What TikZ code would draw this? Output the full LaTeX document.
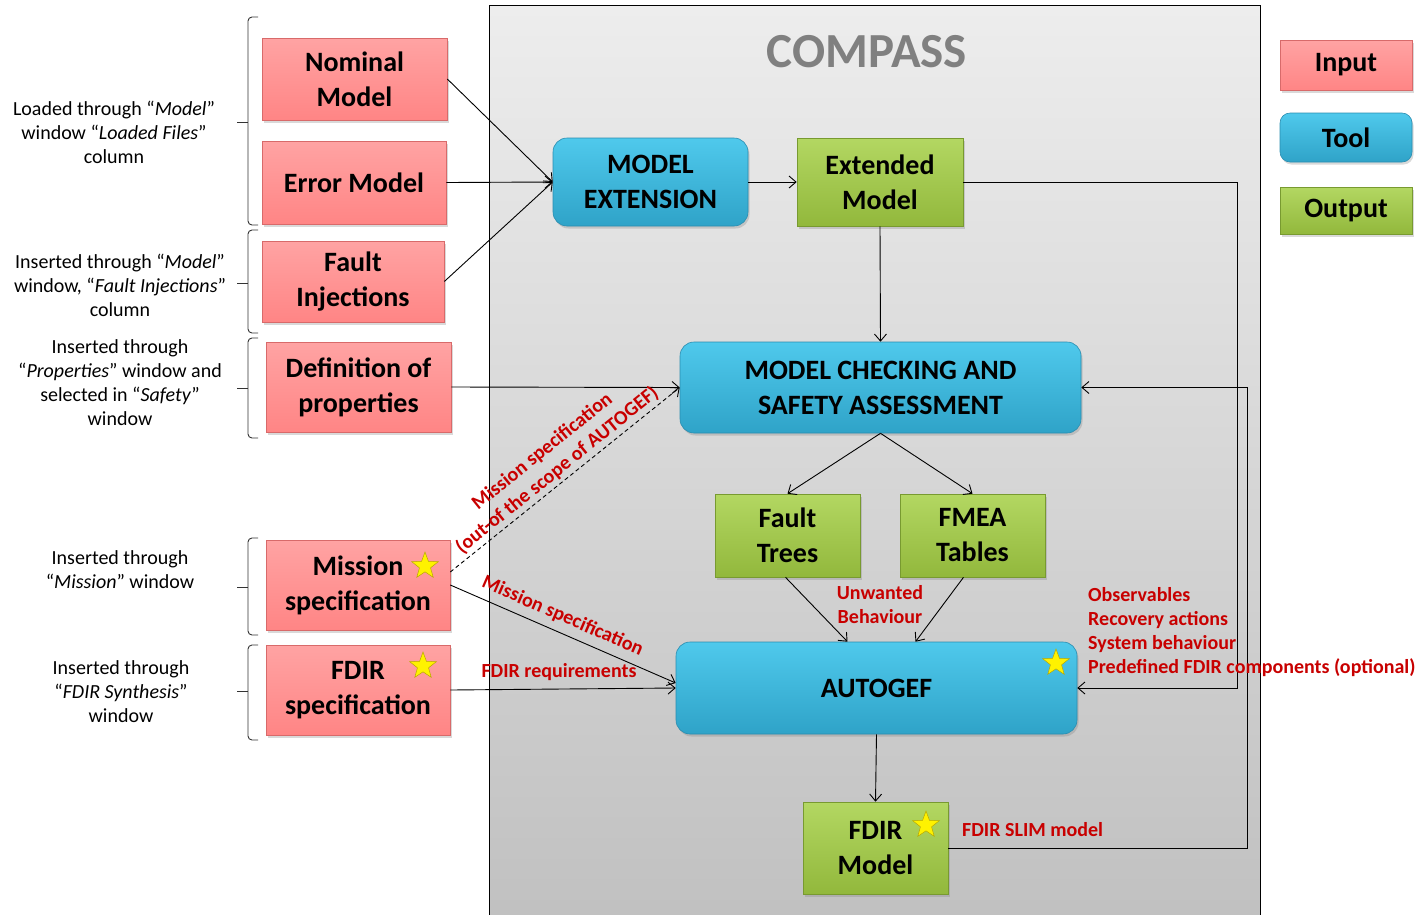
\documentclass[tikz,border=0pt]{standalone}
\usepackage{fontspec}
\setmainfont{Carlito}
\usetikzlibrary{arrows.meta,shapes.geometric,shadows,calc}
\definecolor{pinkT}{HTML}{FFA3A3}
\definecolor{pinkB}{HTML}{FF8585}
\definecolor{pinkD}{HTML}{D86A6A}
\definecolor{blueT}{HTML}{4FC9EC}
\definecolor{blueB}{HTML}{2FA3C8}
\definecolor{blueD}{HTML}{2A8DB0}
\definecolor{greenT}{HTML}{B3D762}
\definecolor{greenB}{HTML}{92B83C}
\definecolor{greenD}{HTML}{789A30}
\definecolor{redL}{HTML}{C80000}
\definecolor{starD}{HTML}{B8A800}
\definecolor{compT}{HTML}{EDEDED}
\definecolor{compB}{HTML}{C0C0C0}
\newcommand\sidebrace[3]{%
  \draw[brc, rounded corners=4pt] (258,#1) -- (248,#1) -- (248,#3) -- (258,#3);
  \draw[brc] (237,#2) -- (248,#2);}
\begin{document}
\begin{tikzpicture}[x=1pt,y=-1pt,
 box/.style={draw, line width=0.6pt, inner sep=0pt, align=center,
   font=\bfseries\fontsize{28}{35}\selectfont,
   drop shadow={opacity=0.3,shadow xshift=1.5pt,shadow yshift=-2.5pt}},
 inbox/.style={box, draw=pinkD, top color=pinkT, bottom color=pinkB},
 toolbox/.style={box, draw=blueD, top color=blueT, bottom color=blueB, rounded corners=14pt},
 outbox/.style={box, draw=greenD, top color=greenT, bottom color=greenB},
 arr/.style={line width=0.9pt, -{Straight Barb[length=7pt,width=12pt]}},
 lbl/.style={text=redL, font=\bfseries\fontsize{20}{24}\selectfont, inner sep=0pt},
 side/.style={align=center, font=\fontsize{20}{24}\selectfont, inner sep=0pt},
 starmark/.style={star, star points=5, star point ratio=2.4, minimum size=28pt,
   inner sep=0pt, draw=starD, line width=0.5pt, fill=yellow},
 brc/.style={line width=0.9pt, draw=black!80}
]
\useasboundingbox (0,0) rectangle (1417,914);
\clip (0,0) rectangle (1417,914);
% COMPASS frame
\fill[top color=compT, bottom color=compB] (489,5) rectangle (1260,930);
\draw[line width=0.9pt] (489,930) -- (489,5) -- (1260,5) -- (1260,930);
\node[font=\bfseries\fontsize{49}{52}\selectfont, text=black!50] (title) at (867,52) {COMPASS};

% legend
\node[inbox, minimum width=132pt, minimum height=50pt] (lin) at (1346,65) {Input};
\node[toolbox, rounded corners=10pt, minimum width=132pt, minimum height=49pt] (ltool) at (1346,137.5) {Tool};
\node[outbox, minimum width=132pt, minimum height=47pt] (lout) at (1346,210.5) {Output};

% inputs
\node[inbox, minimum width=185pt, minimum height=82pt] (nom) at (354.5,79) {Nominal\\Model};
\node[inbox, minimum width=184pt, minimum height=83pt] (err) at (354,182.5) {Error Model};
\node[inbox, minimum width=182pt, minimum height=81pt] (fi) at (353,281.5) {Fault\\Injections};
\node[inbox, minimum width=185pt, minimum height=90pt] (def) at (358.5,387) {Definition of\\properties};
\node[inbox, minimum width=184pt, minimum height=90pt] (mis) at (358,585) {Mission\\specification};
\node[inbox, minimum width=184pt, minimum height=90pt] (fs) at (358,690) {FDIR\\specification};

% tools and outputs
\node[toolbox, minimum width=195pt, minimum height=88pt] (me) at (650.5,182) {MODEL\\EXTENSION};
\node[outbox, minimum width=166pt, minimum height=88pt] (em) at (880,182) {Extended\\Model};
\node[toolbox, minimum width=401pt, minimum height=91pt] (mcsa) at (880.5,387.5) {MODEL CHECKING AND\\SAFETY ASSESSMENT};
\node[outbox, minimum width=145pt, minimum height=83pt] (ft) at (787.5,535.5) {Fault\\Trees};
\node[outbox, minimum width=145pt, minimum height=83pt] (fm) at (972.5,535.5) {FMEA\\Tables};
\node[toolbox, minimum width=401pt, minimum height=92pt] (ag) at (876.5,688) {AUTOGEF};
\node[outbox, minimum width=145pt, minimum height=92pt] (fdm) at (875.5,848) {FDIR\\Model};

% stars
\node[starmark] (s1) at (425,566) {};
\node[starmark] (s2) at (423,666) {};
\node[starmark] (s3) at (1056,663) {};
\node[starmark] (s4) at (926,825) {};

% side texts and braces
\node[side] (t1) at (114,132) {Loaded through “\textit{Model}”\\window “\textit{Loaded Files}”\\column};
\node[side] (t2) at (120,285) {Inserted through “\textit{Model}”\\window, “\textit{Fault Injections}”\\column};
\node[side] (t3) at (120,383) {Inserted through\\“\textit{Properties}” window and\\selected in “\textit{Safety}”\\window};
\node[side] (t4) at (120,570) {Inserted through\\“\textit{Mission}” window};
\node[side] (t5) at (121,692) {Inserted through\\“\textit{FDIR Synthesis}”\\window};
\sidebrace{17}{122}{225}
\sidebrace{230}{283}{333}
\sidebrace{338}{388}{438}
\sidebrace{538}{587}{635}
\sidebrace{645}{691}{740}

% connectors
\draw[arr] (nom.east) -- (me.west);
\draw[arr] (err.east) -- (me.west);
\draw[arr] (fi.east) -- (me.west);
\draw[arr] (me.east) -- (em.west);
\draw[arr] (em.south) -- (mcsa.north);
\draw[arr] (def.east) -- (mcsa.west);
\draw[arr, dash pattern=on 4pt off 3pt] ([yshift=13pt]mis.east) -- node[pos=0.5, sloped, anchor=south, lbl, align=center, yshift=3pt] {Mission specification\\(out-of the scope of AUTOGEF)} (mcsa.west);
\draw[arr] (mis.east) -- node[pos=0.47, sloped, anchor=south, lbl, yshift=7pt] {Mission specification} ([yshift=5pt]ag.west);
\draw[arr] (fs.east) -- (ag.west);
\node[lbl] (freq) at (559,672) {FDIR requirements};
\draw[arr] (mcsa.south) -- (ft.north);
\draw[arr] (mcsa.south) -- (fm.north);
\draw[arr] ([xshift=-2pt]ft.south) -- ([xshift=-29pt]ag.north);
\draw[arr] ([xshift=-9pt]fm.south) -- ([xshift=39pt]ag.north);
\node[lbl, align=center] (unw) at (880,605) {Unwanted\\Behaviour};
\draw[arr] (ag.south) -- (fdm.north);
\coordinate (rx1) at (1237,182);
\draw[arr] (em.east) -- (rx1) |- (ag.east);
\coordinate (rx2) at (1247,387.5);
\draw[arr] (fdm.east) -| (rx2) -- (mcsa.east);
\node[lbl, align=left, anchor=north west] (obs) at (1088,587) {Observables\\Recovery actions\\System behaviour\\Predefined FDIR components (optional)};
\node[lbl, anchor=west] (slim) at (962,830) {FDIR SLIM model};
\end{tikzpicture}
\end{document}
